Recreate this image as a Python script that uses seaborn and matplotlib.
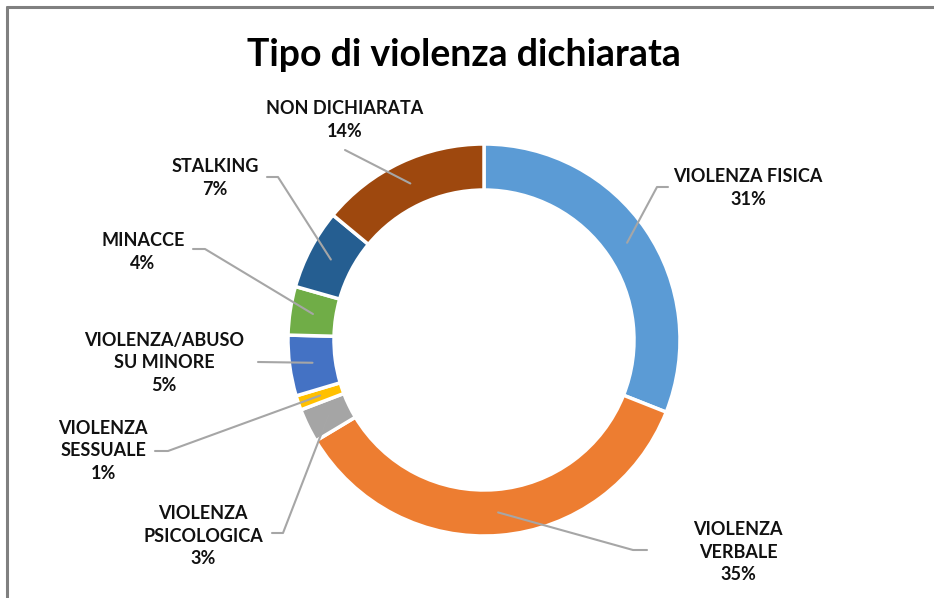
import matplotlib
matplotlib.use("Agg")
import matplotlib.pyplot as plt
import numpy as np
import seaborn as sns
from matplotlib.lines import Line2D

# data (clockwise from 12 o'clock)
categories = [
    "VIOLENZA FISICA",
    "VIOLENZA\nVERBALE",
    "VIOLENZA\nPSICOLOGICA",
    "VIOLENZA\nSESSUALE",
    "VIOLENZA/ABUSO\nSU MINORE",
    "MINACCE",
    "STALKING",
    "NON DICHIARATA",
]
shares = [31.0, 35.4, 2.8, 1.2, 5.0, 4.0, 6.6, 14.0]
pct_labels = ["31%", "35%", "3%", "1%", "5%", "4%", "7%", "14%"]
colors = ["#5B9BD5", "#ED7D31", "#A5A5A5", "#FFC000",
          "#4472C4", "#70AD47", "#255E91", "#9E480E"]

# label layout in image pixels (y down): text centre, leader start near text, elbow
label_pos = [(748, 188), (738, 552), (203, 536), (103, 451),
             (164, 363), (143, 252), (215, 178), (345, 120)]
leader_start = [(668, 187), (647, 550), (272, 533), (155, 451),
                (258, 362), (193, 249), (267, 177), (345, 150)]
leader_elbow = [(657, 187), (633, 550), (283, 533), (168, 451),
                (258, 362), (205, 249), (278, 177), (345, 150)]

W, H = 934, 598
CX, CY, R, RING = 484, 340, 196, 46

sns.set_theme(style="white")
plt.rcParams["font.family"] = ["Lato", "DejaVu Sans"]

fig = plt.figure(figsize=(W / 100, H / 100), dpi=100)
ax = fig.add_axes([0, 0, 1, 1])


def fy(y):
    return H - y


wedges, _ = ax.pie(
    shares,
    colors=colors,
    startangle=90,
    counterclock=False,
    radius=R,
    center=(CX, fy(CY)),
    wedgeprops=dict(width=RING, edgecolor="white", linewidth=2.5),
)
ax.set_xlim(0, W)
ax.set_ylim(0, H)
ax.set_aspect("auto")
ax.axis("off")

line_kw = dict(color="#A6A6A6", linewidth=1.5, zorder=3)
for w, name, pct, (tx, ty), (sx, sy), (ex, ey) in zip(
        wedges, categories, pct_labels, label_pos, leader_start, leader_elbow):
    mid = np.deg2rad((w.theta1 + w.theta2) / 2)
    px = CX + (R - RING / 2) * np.cos(mid)
    py = fy(CY) + (R - RING / 2) * np.sin(mid)
    ax.plot([sx, ex, px], [fy(sy), fy(ey), py], **line_kw)
    ax.text(tx, fy(ty), f"{name}\n{pct}", ha="center", va="center",
            fontsize=13, fontweight="bold", color="#111111",
            linespacing=1.42)

ax.text(464, fy(55), "Tipo di violenza dichiarata", ha="center", va="center",
        fontsize=27, fontweight="bold", color="black")

# frame of the embedded chart (left and top edges only visible)
fig.add_artist(Line2D([7 / W, 7 / W], [0, 1 - 7 / H], transform=fig.transFigure,
                      color="#808080", linewidth=2.2))
fig.add_artist(Line2D([7 / W, 1], [1 - 7 / H, 1 - 7 / H], transform=fig.transFigure,
                      color="#808080", linewidth=2.2))

fig.savefig("out.png", dpi=100)
